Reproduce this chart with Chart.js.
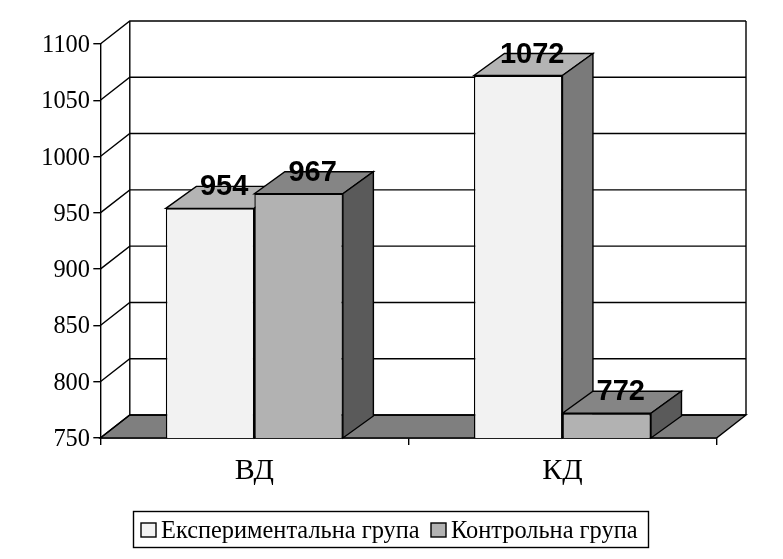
<!DOCTYPE html>
<html>
<head>
<meta charset="utf-8">
<title>Chart</title>
<script src="https://cdn.jsdelivr.net/npm/chart.js@4"></script>
<style>
html, body { margin: 0; padding: 0; background: #fff; }
canvas { display: block; }
</style>
</head>
<body>
<canvas id="chart" width="783" height="559"></canvas>
<script>
const categories = ['ВД', 'КД'];
const experimental = [954, 1072];
const control = [967, 772];
const seriesNames = ['Експериментальна група', 'Контрольна група'];
const yTicks = [750, 800, 850, 900, 950, 1000, 1050, 1100];

const serif = '"Liberation Serif", serif';
const wallDx = 29.5, wallDy = 23;
const barDx = 30.5, barDy = 22;
const frontColors = ['#f2f2f2', '#b2b2b2'];
const topColors = ['#b4b4b4', '#858585'];
const sideColors = ['#7a7a7a', '#5a5a5a'];
const lineW = 1.4;

function poly(ctx, pts, fill) {
    ctx.beginPath();
    pts.forEach((p, i) => i ? ctx.lineTo(p[0], p[1]) : ctx.moveTo(p[0], p[1]));
    ctx.closePath();
    if (fill) {
        ctx.fillStyle = fill;
        ctx.fill();
    }
    ctx.stroke();
}

const box3d = {
    id: 'box3d',
    beforeDatasetsDraw(chart) {
        const ctx = chart.ctx;
        const a = chart.chartArea;
        const yScale = chart.scales.y;
        ctx.save();
        ctx.strokeStyle = '#000';
        ctx.lineWidth = lineW;

        // floor
        poly(ctx, [[a.left, a.bottom], [a.right, a.bottom],
            [a.right + wallDx, a.bottom - wallDy], [a.left + wallDx, a.bottom - wallDy]], '#7f7f7f');

        // back wall and left wall lines
        yTicks.forEach(v => {
            const y = yScale.getPixelForValue(v);
            ctx.beginPath();
            ctx.moveTo(a.left, y);
            ctx.lineTo(a.left + wallDx, y - wallDy);
            ctx.lineTo(a.right + wallDx, y - wallDy);
            ctx.stroke();
        });
        ctx.beginPath();
        ctx.moveTo(a.left + wallDx, a.top - wallDy);
        ctx.lineTo(a.left + wallDx, a.bottom - wallDy);
        ctx.moveTo(a.right + wallDx, a.top - wallDy);
        ctx.lineTo(a.right + wallDx, a.bottom - wallDy);
        ctx.stroke();

        // bar tops and sides, first series first
        chart.data.datasets.forEach((ds, i) => {
            chart.getDatasetMeta(i).data.forEach(bar => {
                const half = bar.width / 2;
                const l = bar.x - half, r = bar.x + half;
                poly(ctx, [[l, bar.y], [r, bar.y], [r + barDx, bar.y - barDy], [l + barDx, bar.y - barDy]], topColors[i]);
                poly(ctx, [[r, bar.y], [r + barDx, bar.y - barDy], [r + barDx, a.bottom - barDy], [r, a.bottom]], sideColors[i]);
            });
        });
        ctx.restore();
    },
    afterDatasetsDraw(chart) {
        const ctx = chart.ctx;
        ctx.save();
        ctx.fillStyle = '#000';
        ctx.font = 'bold 29px "Liberation Sans", sans-serif';
        ctx.textAlign = 'center';
        ctx.textBaseline = 'middle';
        chart.data.datasets.forEach((ds, i) => {
            chart.getDatasetMeta(i).data.forEach((bar, j) => {
                ctx.fillText(ds.data[j], bar.x + 14, bar.y - 21);
            });
        });
        ctx.restore();
    },
    afterDraw(chart) {
        const ctx = chart.ctx;
        const yScale = chart.scales.y;
        ctx.save();

        // y labels sit lower than the library's middle baseline would put them
        ctx.fillStyle = '#000';
        ctx.font = '24.4px ' + serif;
        ctx.textAlign = 'right';
        ctx.textBaseline = 'alphabetic';
        yTicks.forEach(v => ctx.fillText(v, 90, yScale.getPixelForValue(v) + 8));

        // legend box: swatches sit closer to the text than the built-in legend allows
        ctx.textAlign = 'left';
        ctx.strokeStyle = '#000';
        ctx.lineWidth = lineW;
        ctx.strokeRect(133.5, 511.5, 515, 36);
        const swatchX = [141, 431];
        seriesNames.forEach((name, i) => {
            ctx.fillStyle = frontColors[i];
            ctx.fillRect(swatchX[i], 523, 15, 14);
            ctx.strokeRect(swatchX[i], 523, 15, 14);
            ctx.fillStyle = '#000';
            ctx.fillText(name, swatchX[i] + 20, 538);
        });
        ctx.restore();
    }
};

new Chart(document.getElementById('chart').getContext('2d'), {
    type: 'bar',
    data: {
        labels: categories,
        datasets: [
            { label: seriesNames[0], data: experimental, backgroundColor: frontColors[0] },
            { label: seriesNames[1], data: control, backgroundColor: frontColors[1] }
        ]
    },
    options: {
        responsive: false,
        animation: false,
        layout: { padding: { top: 44, right: 66.5, bottom: 0, left: 0 } },
        datasets: {
            bar: {
                categoryPercentage: 177 / 308,
                barPercentage: 1,
                borderColor: '#000',
                borderWidth: lineW,
                borderSkipped: false
            }
        },
        plugins: {
            title: { display: false },
            tooltip: { enabled: false },
            legend: { display: false }
        },
        scales: {
            x: {
                afterFit(s) { s.height = 121; },
                border: { color: '#000', width: lineW },
                grid: { color: '#000', lineWidth: lineW, drawOnChartArea: false, tickLength: 7 },
                ticks: { color: '#000', font: { family: serif, size: 30 }, padding: 8, maxRotation: 0 }
            },
            y: {
                min: 750,
                max: 1100,
                afterFit(s) { s.width = 100.3; },
                afterBuildTicks(s) { s.ticks = yTicks.map(v => ({ value: v })); },
                border: { color: '#000', width: lineW },
                grid: { color: '#000', lineWidth: lineW, drawOnChartArea: false, tickLength: 7 },
                ticks: { display: false }
            }
        }
    },
    plugins: [box3d]
});
</script>
</body>
</html>
